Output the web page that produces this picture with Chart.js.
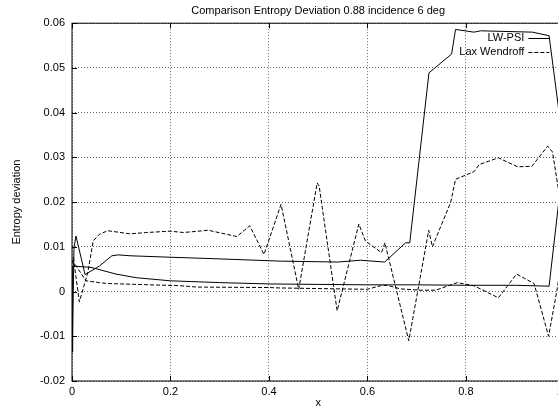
<!DOCTYPE html>
<html>
<head>
<meta charset="utf-8">
<script src="https://cdn.jsdelivr.net/npm/chart.js@4/dist/chart.umd.min.js"></script>
<style>
  html, body { margin: 0; padding: 0; background: #fff; overflow: hidden; }
  canvas { display: block; }
</style>
</head>
<body>
<canvas id="myChart" width="576" height="406"></canvas>
<script>
// entropy deviation on the blade, each series is one closed loop: TE -> upper side -> LE -> lower side -> TE

var titulo = 'Comparison Entropy Deviation 0.88 incidence 6 deg';
var label1 = 'LW-PSI';
var label2 = 'Lax Wendroff';

var lwpsi_x = [1.0, 0.969, 0.935, 0.83, 0.8165, 0.779, 0.771, 0.725, 0.686, 0.6775, 0.635, 0.586, 0.54, 0.423, 0.3, 0.193, 0.118, 0.094, 0.081, 0.0556, 0.0265, 0.0081, 0.004, 0.0005, 0.0014, 0.0387, 0.0895, 0.13, 0.2, 0.3, 0.4, 0.5, 0.6, 0.7, 0.8, 0.9, 0.969, 1.0];
var lwpsi_y = [0.031, 0.0572, 0.0580, 0.0583, 0.0580, 0.0586, 0.0531, 0.0489, 0.0109, 0.0109, 0.0066, 0.0070, 0.0066, 0.0068, 0.0073, 0.0077, 0.0080, 0.0082, 0.0080, 0.0057, 0.0038, 0.0124, 0.0098, -0.0135, 0.0057, 0.0054, 0.0039, 0.0031, 0.0024, 0.0020, 0.0017, 0.0016, 0.0015, 0.0015, 0.0014, 0.0014, 0.0012, 0.031];

var laxw_x = [1.0, 0.988, 0.976, 0.966, 0.934, 0.905, 0.866, 0.827, 0.8165, 0.779, 0.769, 0.732, 0.7245, 0.684, 0.6355, 0.6287, 0.596, 0.5826, 0.5385, 0.502, 0.498, 0.4605, 0.4246, 0.39, 0.361, 0.335, 0.277, 0.2265, 0.199, 0.152, 0.118, 0.0726, 0.0556, 0.043, 0.032, 0.0149, 0.0027, 0.001, 0.006, 0.0285, 0.0556, 0.0705, 0.13, 0.22, 0.254, 0.4, 0.4231, 0.5996, 0.627, 0.64, 0.667, 0.708, 0.7386, 0.7827, 0.8165, 0.866, 0.903, 0.9385, 0.968, 0.986, 1.0];
var laxw_y = [0.0125, 0.0228, 0.0312, 0.0325, 0.0280, 0.0279, 0.0299, 0.0284, 0.0268, 0.0251, 0.0199, 0.0100, 0.0137, -0.0110, 0.0109, 0.0087, 0.0113, 0.0151, -0.0043, 0.0236, 0.0243, 0.0005, 0.0195, 0.0083, 0.0147, 0.0123, 0.0137, 0.0132, 0.0135, 0.0132, 0.0129, 0.0136, 0.0128, 0.0113, 0.0042, -0.0023, 0.0076, 0.0065, 0.0061, 0.0024, 0.0020, 0.0018, 0.0016, 0.0013, 0.0010, 0.0009, 0.0008, 0.0005, 0.0013, 0.0014, 0.0006, 0.0003, 0.0003, 0.0020, 0.0013, -0.0014, 0.0039, 0.0018, -0.0100, 0.0009, 0.0125];

var x_min = 0, x_max = 1, x_step = 0.2;
var y_min = -0.02, y_max = 0.06, y_step = 0.01;

function puntos (xs, ys) {
    var out = [];
    for (var i = 0; i < xs.length; i++) {
        out.push({ x: xs[i], y: ys[i] });
    }
    return out;
}

// gnuplot look: closed frame, ticks pointing inwards, key with text left of the sample
var marco = {
    id: 'marco',
    afterDatasetsDraw: function (chart) {
        var ctx = chart.ctx;
        var a = chart.chartArea;
        var sx = chart.scales.x;
        var sy = chart.scales.y;
        ctx.save();
        ctx.strokeStyle = '#000';
        ctx.lineWidth = 1;
        ctx.setLineDash([]);
        ctx.strokeRect(a.left, a.top, a.right - a.left, a.bottom - a.top);
        ctx.beginPath();
        sx.ticks.forEach(function (t) {
            var px = Math.round(sx.getPixelForValue(t.value)) + 0.5;
            ctx.moveTo(px, a.bottom); ctx.lineTo(px, a.bottom - 5);
            ctx.moveTo(px, a.top); ctx.lineTo(px, a.top + 5);
        });
        sy.ticks.forEach(function (t) {
            var py = Math.round(sy.getPixelForValue(t.value)) + 0.5;
            ctx.moveTo(a.left, py); ctx.lineTo(a.left + 5, py);
            ctx.moveTo(a.right, py); ctx.lineTo(a.right - 5, py);
        });
        ctx.stroke();

        ctx.font = '11px "Liberation Sans", Arial, sans-serif';
        ctx.fillStyle = '#000';
        ctx.textAlign = 'right';
        ctx.textBaseline = 'middle';
        chart.data.datasets.forEach(function (ds, i) {
            var y = a.top + 14.5 + i * 14.5;
            ctx.fillText(ds.label, a.right - 40, y);
            ctx.setLineDash(ds.borderDash || []);
            ctx.beginPath();
            ctx.moveTo(a.right - 36, Math.round(y) + 0.5);
            ctx.lineTo(a.right - 15, Math.round(y) + 0.5);
            ctx.stroke();
        });
        ctx.restore();
    }
};

Chart.defaults.font.family = '"Liberation Sans", Arial, sans-serif';
Chart.defaults.font.size = 11;
Chart.defaults.color = '#000';

var ctx = document.getElementById('myChart').getContext('2d');
var myChart = new Chart(ctx, {
    type: 'line',
    data: {
        datasets: [{
            label: label1,
            data: puntos(lwpsi_x, lwpsi_y),
            borderColor: '#000',
            borderWidth: 1,
            pointRadius: 0,
            fill: false,
            tension: 0
        },
        {
            label: label2,
            data: puntos(laxw_x, laxw_y),
            borderColor: '#000',
            borderWidth: 1,
            borderDash: [4, 2],
            pointRadius: 0,
            fill: false,
            tension: 0
        }]
    },
    options: {
        responsive: false,
        animation: false,
        layout: { padding: { left: 0, right: 0, top: 0, bottom: 0 } },
        plugins: {
            legend: { display: false },
            tooltip: { enabled: false },
            title: {
                display: true,
                text: titulo,
                fullSize: false,
                padding: { top: 4, bottom: 6 },
                font: { size: 11, weight: 'normal' },
                color: '#000'
            }
        },
        scales: {
            x: {
                type: 'linear',
                min: x_min,
                max: x_max,
                ticks: { stepSize: x_step, padding: 4, maxRotation: 0 },
                grid: { color: 'rgba(0,0,0,0.6)', lineWidth: 1, drawTicks: false },
                border: { display: false, dash: [1, 2] },
                title: { display: true, text: 'x', padding: { top: 0, bottom: -4 } },
                afterFit: function (s) { s.height = 25; }
            },
            y: {
                min: y_min,
                max: y_max,
                ticks: { stepSize: y_step, padding: 7 },
                grid: { color: 'rgba(0,0,0,0.6)', lineWidth: 1, drawTicks: false },
                border: { display: false, dash: [1, 2] },
                title: { display: true, text: 'Entropy deviation', padding: { top: 10, bottom: 0 } },
                afterFit: function (s) { s.width = 72; }
            }
        }
    },
    plugins: [marco]
});
</script>
</body>
</html>
